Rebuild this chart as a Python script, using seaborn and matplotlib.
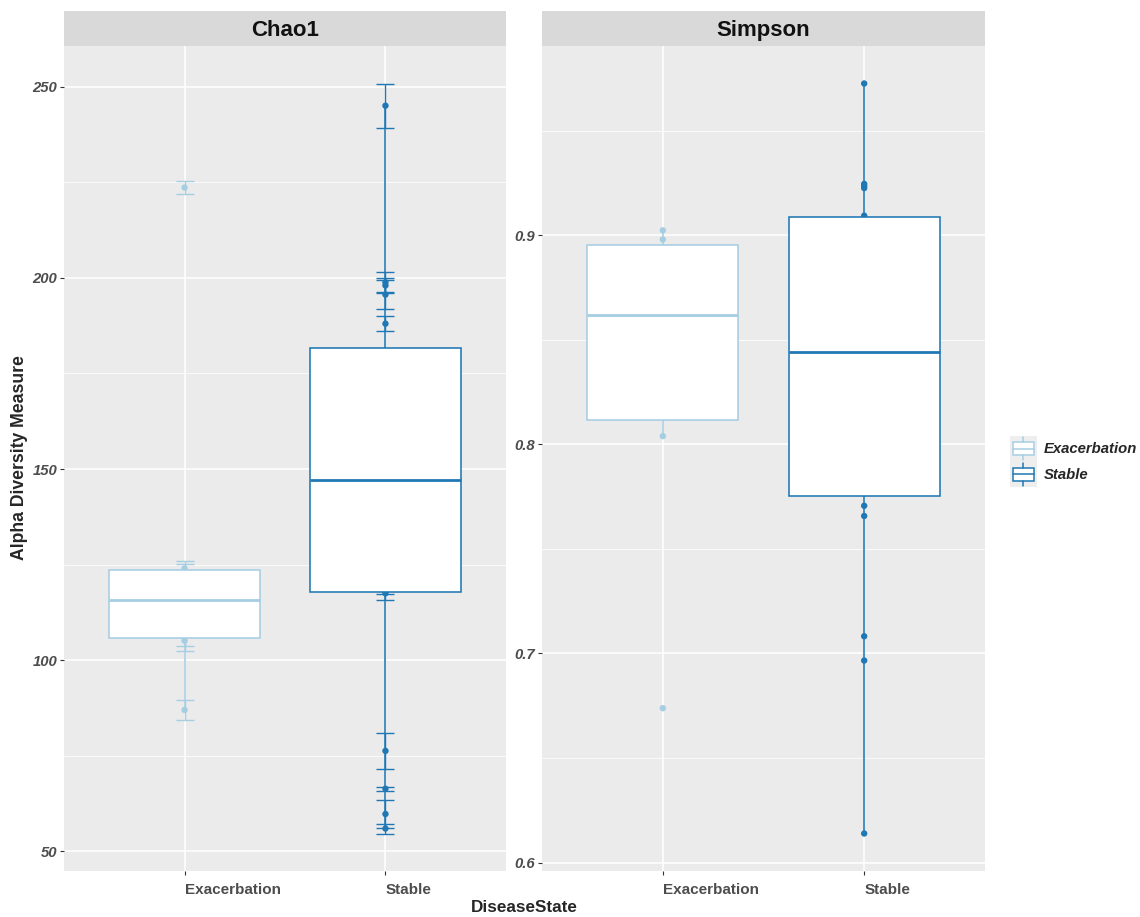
import numpy as np
import pandas as pd
import matplotlib
matplotlib.use("Agg")
import matplotlib.pyplot as plt
import seaborn as sns
from matplotlib.legend_handler import HandlerBase
from matplotlib.patches import Rectangle, Patch
from matplotlib.lines import Line2D
from matplotlib.ticker import MultipleLocator

# ---- data -------------------------------------------------------------
states = ["Exacerbation", "Stable"]
metrics = ["Chao1", "Simpson"]
palette = {"Exacerbation": "#A6CEE3", "Stable": "#1F78B4"}

chao1_exac = [87.0, 105.1, 106.0, 112.4, 119.2, 123.3, 124.0, 223.6]
chao1_exac_se = [2.7, 1.3, 3.6, 1.5, 1.5, 1.9, 1.9, 1.75]

chao1_stable = [56.0, 59.8, 66.4, 76.3, 117.5, 117.9, 124.0, 130.5, 137.0, 143.5,
                150.9, 158.0, 165.0, 172.0, 179.5, 188.0, 195.6, 198.0, 198.8, 245.0]
chao1_stable_se = [1.3, 3.6, 0.55, 4.8, 1.8, 0.5, 2.0, 2.2, 2.5, 2.0,
                   2.4, 2.1, 2.6, 2.3, 1.5, 1.95, 3.7, 1.9, 2.6, 5.8]

simpson_exac = [0.6738, 0.8039, 0.8143, 0.8550, 0.8684, 0.8942, 0.8979, 0.9023]

simpson_stable = [0.6139, 0.6966, 0.7082, 0.7657, 0.7706, 0.7766, 0.7850, 0.8010,
                  0.8190, 0.8380, 0.8502, 0.8620, 0.8760, 0.8930, 0.9086, 0.9093,
                  0.9225, 0.9235, 0.9245, 0.9725]

tick_steps = {"Chao1": 50, "Simpson": 0.1}

# ---- long table ---------------------------------------------------------
rows = []
for st, vals, ses in [("Exacerbation", chao1_exac, chao1_exac_se),
                      ("Stable", chao1_stable, chao1_stable_se)]:
    for v, s in zip(vals, ses):
        rows.append({"DiseaseState": st, "variable": "Chao1", "value": v, "se": s})
for st, vals in [("Exacerbation", simpson_exac), ("Stable", simpson_stable)]:
    for v in vals:
        rows.append({"DiseaseState": st, "variable": "Simpson", "value": v, "se": np.nan})
df = pd.DataFrame(rows)

# ---- style --------------------------------------------------------------
sns.set_style("darkgrid", {"axes.facecolor": "#EBEBEB", "grid.color": "white"})
plt.rcParams["font.family"] = ["Liberation Sans", "DejaVu Sans"]

W, H = 1140, 917
fig = plt.figure(figsize=(W / 100, H / 100), dpi=100)

panel_px = {"Chao1": (64, 442), "Simpson": (542, 443)}
top_px, bottom_px, strip_px = 46, 871, 35

tick_grey = "#4D4D4D"


class BoxKey(HandlerBase):
    """Legend key drawn as a small boxplot glyph on a grey tile."""

    def create_artists(self, legend, orig_handle, xdescent, ydescent,
                       width, height, fontsize, trans):
        col = orig_handle.get_edgecolor()
        x0, y0 = -xdescent, -ydescent
        bg = Rectangle((x0, y0), width, height, fc="#EEEEEE", ec="none")
        box = Rectangle((x0 + 0.1 * width, y0 + 0.25 * height), 0.8 * width,
                        0.5 * height, fc="white", ec=col, lw=1.1)
        med = Line2D([x0 + 0.1 * width, x0 + 0.9 * width],
                     [y0 + 0.5 * height] * 2, color=col, lw=1.1)
        wl = Line2D([x0 + 0.5 * width] * 2, [y0 + 0.06 * height, y0 + 0.25 * height],
                    color=col, lw=1.1)
        wu = Line2D([x0 + 0.5 * width] * 2, [y0 + 0.75 * height, y0 + 0.94 * height],
                    color=col, lw=1.1)
        arts = [bg, box, med, wl, wu]
        for a in arts:
            a.set_transform(trans)
        return arts


for m in metrics:
    left, width = panel_px[m]
    ax = fig.add_axes([left / W, (H - bottom_px) / H, width / W, (bottom_px - top_px) / H])
    sub = df[df["variable"] == m]

    sns.stripplot(data=sub, x="DiseaseState", y="value", hue="DiseaseState",
                  order=states, hue_order=states, palette=palette, jitter=False,
                  size=4.6, linewidth=0, legend=False, ax=ax, zorder=1.5)

    for st in states:
        g = sub[sub["DiseaseState"] == st]
        sns.boxplot(data=g, x="DiseaseState", y="value", order=states,
                    color="white", linecolor=palette[st], width=0.75,
                    showfliers=False, showcaps=False, linewidth=1.15,
                    medianprops={"linewidth": 2.0}, ax=ax)

    for i, st in enumerate(states):
        g = sub[sub["DiseaseState"] == st]
        if g["se"].notna().any():
            ax.errorbar(np.full(len(g), i), g["value"], yerr=g["se"], fmt="none",
                        ecolor=palette[st], elinewidth=1.0, capsize=6.8,
                        capthick=1.0, zorder=1)

    # y range with 5% padding around values (and error bars)
    lo = (sub["value"] - sub["se"].fillna(0)).min()
    hi = (sub["value"] + sub["se"].fillna(0)).max()
    pad = 0.05 * (hi - lo)
    ax.set_ylim(lo - pad, hi + pad)
    ax.set_xlim(-0.6, 1.6)

    step = tick_steps[m]
    ax.yaxis.set_major_locator(MultipleLocator(step))
    ax.yaxis.set_minor_locator(MultipleLocator(step / 2))
    ax.grid(True, which="major", color="white", lw=1.1)
    ax.grid(True, which="minor", axis="y", color="white", lw=0.55)
    ax.set_axisbelow(True)
    for sp in ax.spines.values():
        sp.set_visible(False)

    ax.set_xticks(range(len(states)))
    ax.set_xticklabels(states, ha="left", fontweight="bold", fontsize=11,
                       color=tick_grey)
    for lab in ax.get_yticklabels():
        lab.set_fontweight("bold")
        lab.set_fontstyle("italic")
        lab.set_fontsize(10.7)
        lab.set_color(tick_grey)
    ax.tick_params(which="major", length=2.8, width=0.8, color="#333333",
                   left=True, bottom=True)
    ax.tick_params(axis="y", pad=2)
    ax.tick_params(axis="x", pad=5.5)
    ax.tick_params(which="minor", length=0)
    ax.set_xlabel("")
    ax.set_ylabel("")

    sax = fig.add_axes([left / W, (H - top_px) / H, width / W, strip_px / H])
    sax.set_facecolor("#D9D9D9")
    sax.set_xticks([])
    sax.set_yticks([])
    sax.grid(False)
    for sp in sax.spines.values():
        sp.set_visible(False)
    sax.text(0.5, 0.44, m, ha="center", va="center", fontsize=16,
             fontweight="bold", color="#111111", transform=sax.transAxes)

fig.text(20 / W, 1 - 458 / H, "Alpha Diversity Measure", rotation=90,
         ha="center", va="center", fontsize=12.7, fontweight="bold")
fig.text(524.5 / W, 1 - 907 / H, "DiseaseState", ha="center", va="center",
         fontsize=12.3, fontweight="bold")

handles = [Patch(edgecolor=palette[s], facecolor="white") for s in states]
leg_fs = 10.7
fig.legend(handles, states, handler_map={Patch: BoxKey()},
           loc="center left", bbox_to_anchor=(1010 / W, 1 - 461.5 / H),
           frameon=False, borderpad=0, borderaxespad=0, labelspacing=0,
           handlelength=1.8, handleheight=2.3, handletextpad=0.5,
           prop={"weight": "bold", "style": "italic", "size": leg_fs})

fig.savefig("out.png", dpi=100)
